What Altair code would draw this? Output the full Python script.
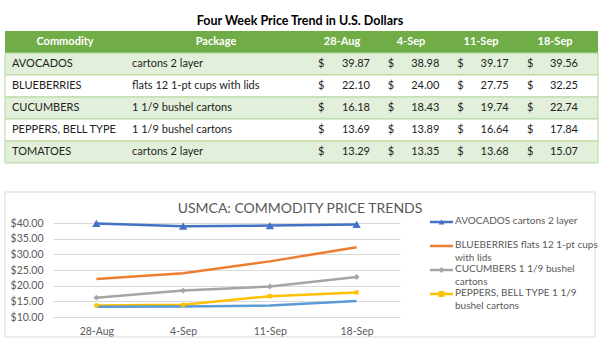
import altair as alt
import pandas as pd

# ---------------- data ----------------
commodities = ["AVOCADOS", "BLUEBERRIES", "CUCUMBERS", "PEPPERS, BELL TYPE", "TOMATOES"]
packages = ["cartons 2 layer", "flats 12 1-pt cups with lids", "1 1/9 bushel cartons",
            "1 1/9 bushel cartons", "cartons 2 layer"]
weeks = ["28-Aug", "4-Sep", "11-Sep", "18-Sep"]
avocados = [39.87, 38.98, 39.17, 39.56]
blueberries = [22.10, 24.00, 27.75, 32.25]
cucumbers = [16.18, 18.43, 19.74, 22.74]
peppers = [13.69, 13.89, 16.64, 17.84]
tomatoes = [13.29, 13.35, 13.68, 15.07]
headers = ["Commodity", "Package"] + weeks
y_ticks = [10, 15, 20, 25, 30, 35, 40]
table_title = "Four Week Price Trend in U.S. Dollars"
chart_title = "USMCA: COMMODITY PRICE TRENDS"
legend_series = ["AVOCADOS", "BLUEBERRIES", "CUCUMBERS", "PEPPERS, BELL TYPE"]
legend_labels = ["AVOCADOS cartons 2 layer",
                 "BLUEBERRIES flats 12 1-pt cups\nwith lids",
                 "CUCUMBERS 1 1/9 bushel\ncartons",
                 "PEPPERS, BELL TYPE 1 1/9\nbushel cartons"]

series = [avocados, blueberries, cucumbers, peppers, tomatoes]

# ---------------- styles / layout ----------------
FONT = "Lato"
TXT = "#222222"
GRAY = "#595959"
line_colors = ["#4472c4", "#ed7d31", "#a5a5a5", "#ffc000", "#5b9bd5"]
shapes = ["triangle-up", "circle", "diamond", "square", "circle"]
sizes = [70, 0, 55, 60, 115]
O = 53  # left offset of the plot origin in the page
TOTAL_W = 600
header_x = [65, 216, 342, 411, 481, 555]

long_rows = []
for c, p, vals in zip(commodities, packages, series):
    for w, v in zip(weeks, vals):
        long_rows.append({"commodity": c, "package": p, "week": w, "price": v})
df_long = pd.DataFrame(long_rows)
df_table = pd.DataFrame({"row": commodities, "package": packages})

row_domain = ["header"] + commodities
yrow = alt.Y("row:N", scale=alt.Scale(domain=row_domain, range=[31, 163],
                                       paddingInner=0, paddingOuter=0), axis=None)

one = pd.DataFrame({"k": [0]})

# ---------------- table panel ----------------
table_bg = alt.Chart(one).mark_rect(color="white").encode(
    x=alt.value(-O), x2=alt.value(TOTAL_W - O), y=alt.value(0), y2=alt.value(185))

header_rect = alt.Chart(pd.DataFrame({"row": ["header"]})).mark_rect(color="#70ad47").encode(
    x=alt.value(5 - O), x2=alt.value(598 - O), y=yrow)

body_df = pd.DataFrame({"row": commodities,
                        "fill": ["#e2efda" if i % 2 == 0 else "#ffffff" for i in range(len(commodities))]})
body_rect = alt.Chart(body_df).mark_rect(stroke="#b4d79c", strokeWidth=1).encode(
    x=alt.value(5 - O), x2=alt.value(598 - O), y=yrow, fill=alt.Fill("fill:N", scale=None))

title_txt = alt.Chart(pd.DataFrame({"t": [table_title]})).mark_text(
    font=FONT, fontSize=12.5, fontWeight="bold", color="#000000").encode(
    x=alt.value(300 - O), y=alt.value(21), text="t:N")

header_layers = []
for h, hx in zip(headers, header_x):
    header_layers.append(
        alt.Chart(pd.DataFrame({"row": ["header"], "label": [h]})).mark_text(
            font=FONT, fontSize=11, fontWeight="bold", color="white").encode(
            x=alt.value(hx - O), y=yrow, text="label:N"))

BODY = 11
comm_txt = alt.Chart(df_table).mark_text(font=FONT, fontSize=BODY, color=TXT, align="left").encode(
    x=alt.value(12 - O), y=yrow, text="row:N")
pack_txt = alt.Chart(df_table).mark_text(font=FONT, fontSize=BODY, color=TXT, align="left").encode(
    x=alt.value(132 - O), y=yrow, text="package:N")

df_cells = df_long.rename(columns={"commodity": "row"})
dollar_txt = alt.Chart(df_cells).mark_text(font=FONT, fontSize=BODY, color=TXT, align="left").encode(
    x=alt.X("week:N", scale=alt.Scale(type="point", domain=weeks, range=[318 - O, 527 - O], padding=0),
            axis=None),
    y=yrow, text=alt.value("$"))
num_txt = alt.Chart(df_cells).mark_text(font=FONT, fontSize=BODY, color=TXT, align="right").encode(
    x=alt.X("week:N", scale=alt.Scale(type="point", domain=weeks, range=[370 - O, 578 - O], padding=0),
            axis=None),
    y=yrow, text=alt.Text("price:Q", format=".2f"))

table_panel = alt.layer(table_bg, header_rect, body_rect, title_txt, *header_layers, comm_txt, pack_txt,
                        dollar_txt, num_txt).resolve_scale(x="independent").properties(
    width=TOTAL_W - O, height=185)

# ---------------- line chart panel ----------------
chart_bg = alt.Chart(one).mark_rect(fill="white", fillOpacity=0).encode(
    x=alt.value(-O), x2=alt.value(TOTAL_W - O), y=alt.value(-38), y2=alt.value(128))
box_rect = alt.Chart(one).mark_rect(fill="white", fillOpacity=0, stroke="#d9d9d9", strokeWidth=1).encode(
    x=alt.value(5 - O), x2=alt.value(595 - O), y=alt.value(-31), y2=alt.value(114))
chart_title_txt = alt.Chart(pd.DataFrame({"t": [chart_title]})).mark_text(
    font=FONT, fontSize=14, color=GRAY).encode(x=alt.value(300 - O), y=alt.value(-14), text="t:N")

xenc = alt.X("week:N", sort=weeks,
             scale=alt.Scale(type="point", domain=weeks, padding=0.5),
             axis=alt.Axis(title=None, labelAngle=0, ticks=False, domain=False, grid=False,
                           labelPadding=9, labelFont=FONT, labelFontSize=10.5, labelColor=GRAY))
yenc = alt.Y("price:Q", scale=alt.Scale(domain=[10, 40], nice=False, zero=False),
             axis=alt.Axis(title=None, values=y_ticks, format="$.2f", ticks=False, domain=False,
                           grid=True, gridColor="#d9d9d9", gridWidth=1, labelPadding=10,
                           labelFont=FONT, labelFontSize=10.5, labelColor=GRAY))
color_enc = alt.Color("commodity:N", scale=alt.Scale(domain=commodities, range=line_colors), legend=None)

lines = alt.Chart(df_long).mark_line(strokeWidth=2.5).encode(x=xenc, y=yenc, color=color_enc)
points = alt.Chart(df_long).transform_filter(alt.datum.commodity != "BLUEBERRIES").mark_point(
    filled=True, opacity=1).encode(
    x=xenc, y=yenc, color=color_enc,
    shape=alt.Shape("commodity:N", scale=alt.Scale(domain=commodities, range=shapes), legend=None),
    size=alt.Size("commodity:N", scale=alt.Scale(domain=commodities, range=sizes), legend=None))
price_layer = alt.layer(lines, points)

legend_df = pd.DataFrame({"commodity": legend_series, "label": legend_labels})
yleg = alt.Y("commodity:N", scale=alt.Scale(type="point", domain=legend_series, range=[-1, 71], padding=0),
             axis=None)
leg_rule = alt.Chart(legend_df).mark_rule(strokeWidth=2.5).encode(
    x=alt.value(430 - O), x2=alt.value(453 - O), y=yleg, color=color_enc)
leg_pts = alt.Chart(legend_df).transform_filter(alt.datum.commodity != "BLUEBERRIES").mark_point(
    filled=True, opacity=1, size=35).encode(
    x=alt.value(441.5 - O), y=yleg, color=color_enc,
    shape=alt.Shape("commodity:N", scale=alt.Scale(domain=commodities, range=shapes), legend=None))
leg_txt = alt.Chart(legend_df).mark_text(font=FONT, fontSize=10, color=GRAY, align="left",
                                         baseline="top", dy=-6, lineBreak="\n", lineHeight=12.5).encode(
    x=alt.value(455 - O), y=yleg, text="label:N")
legend_layer = alt.layer(leg_rule, leg_pts, leg_txt)

chart_panel = alt.layer(chart_bg, box_rect, chart_title_txt, price_layer, legend_layer).resolve_scale(
    y="independent").properties(width=347, height=94)

chart = alt.vconcat(table_panel, chart_panel, spacing=0).properties(
    padding=0, background="white").configure_view(strokeWidth=0)

chart.save("out.html", embed_options={"renderer": "svg", "actions": False})
